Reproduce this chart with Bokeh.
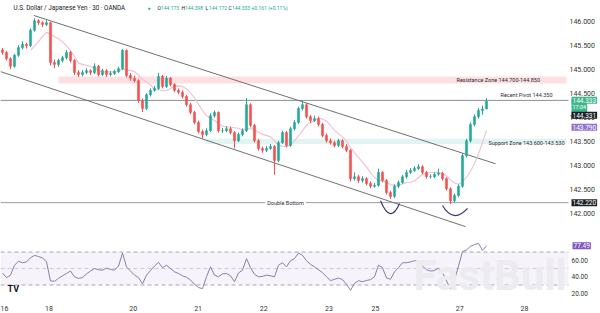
import numpy as np
from bokeh.plotting import figure
from bokeh.layouts import column
from bokeh.models import (Range1d, FixedTicker, Label, BoxAnnotation, ColumnDataSource)
from bokeh.core.properties import value
from bokeh.embed import file_html
from bokeh.resources import INLINE

# ---------------- data ----------------
first_open = 145.40
closes = [145.35,145.22,145.06,145.29,145.45,145.52,145.49,145.81,146.01,145.97,
          145.93,145.97,145.14,145.10,145.18,145.24,145.35,145.18,144.93,144.89,
          144.93,144.97,144.93,145.06,144.89,144.97,144.89,144.91,144.95,145.01,
          145.39,144.87,144.81,144.76,144.35,144.18,144.47,144.56,144.60,144.85,
          144.64,144.81,144.68,144.56,144.52,144.43,144.26,144.10,143.89,143.70,
          143.64,143.72,144.03,144.10,143.72,143.72,143.76,143.68,143.51,143.64,
          143.72,144.26,143.83,143.51,143.35,143.31,143.35,143.39,143.10,143.47,
          143.68,143.41,143.76,143.89,144.18,144.26,144.01,143.93,143.97,143.85,
          143.62,143.51,143.47,143.41,143.51,143.39,143.31,142.72,142.76,142.68,
          142.72,142.62,142.56,142.58,142.85,142.68,142.43,142.35,142.56,142.64,
          142.76,142.85,142.89,142.93,142.97,142.85,142.76,142.76,142.81,142.83,
          142.72,142.51,142.26,142.37,142.56,143.20,143.51,143.85,144.01,144.14,
          144.17,144.333]
highs = [145.44,145.38,145.25,145.32,145.50,145.58,145.55,145.85,146.06,146.04,
         146.00,146.02,145.99,145.20,145.22,145.28,145.40,145.38,145.21,144.98,
         144.98,145.02,145.00,145.12,145.09,145.01,145.00,144.96,144.99,145.05,
         145.42,145.41,144.92,144.86,144.79,144.39,144.50,144.60,144.65,144.92,
         144.88,144.86,144.84,144.71,144.60,144.56,144.46,144.30,144.13,143.93,
         143.74,143.77,144.08,144.14,144.12,143.78,143.81,143.80,143.71,143.68,
         143.77,144.40,144.29,143.86,143.55,143.39,143.40,143.44,143.42,143.51,
         143.72,143.71,143.80,143.94,144.22,144.33,144.29,144.05,144.03,144.01,
         143.88,143.66,143.56,143.51,143.55,143.54,143.44,143.34,142.85,142.80,
         142.77,142.75,142.66,142.63,142.93,142.88,142.71,142.47,142.60,142.68,
         142.80,142.90,142.94,142.98,143.02,143.00,142.88,142.81,142.85,142.93,
         142.86,142.75,142.54,142.41,142.60,143.24,143.55,143.89,144.06,144.19,
         144.24,144.398]
lows = [145.30,145.18,145.00,145.03,145.26,145.41,145.43,145.46,145.78,145.92,
        145.88,145.90,145.08,145.02,145.05,145.14,145.20,145.14,144.88,144.84,
        144.85,144.90,144.88,144.90,144.85,144.86,144.84,144.85,144.88,144.92,
        144.98,144.83,144.76,144.72,144.30,144.11,144.15,144.43,144.53,144.57,
        144.60,144.61,144.64,144.52,144.48,144.39,144.22,144.06,143.85,143.66,
        143.55,143.60,143.69,143.99,143.68,143.67,143.69,143.64,143.35,143.48,
        143.60,143.69,143.79,143.47,143.30,143.26,143.27,143.32,142.80,143.06,
        143.44,143.37,143.38,143.72,143.86,144.14,143.97,143.88,143.90,143.81,
        143.58,143.47,143.43,143.37,143.38,143.35,143.27,142.66,142.68,142.63,
        142.64,142.58,142.52,142.53,142.55,142.64,142.39,142.30,142.32,142.52,
        142.61,142.72,142.82,142.86,142.90,142.81,142.72,142.72,142.73,142.78,
        142.68,142.47,142.19,142.22,142.33,142.53,143.16,143.47,143.81,143.97,
        144.05,144.172]
rsi = [44.6,39,42,54,58.8,57,58,63,66,64.5,
       63,58,35,34.5,38,41.2,44,47,40,38,
       39,43.5,47,50,48.5,48,50.5,49,48,53,
       68.7,52,47,42,39,31.4,42,47.5,53,57.5,
       51,54,50,46,44,41.2,39.5,36,31,27,
       25.6,40,52,42,40,43.5,44,41.2,34,44.6,
       48,62,51,43,40,40.5,42,41.2,40,54,
       57,52,59.5,62,68.7,66,59.5,55,52,48.5,
       45,40,35.3,37,38.5,36.5,31,23.5,32,35.3,
       34,35.5,36.5,40,54,51,38.5,37,46,51,
       57,57,58,59.5,59.5,53,48.5,47,47.5,50.5,
       45,35,25,36,53,70.6,72.5,77,79,80.5,
       72,77.49]

day_labels = ["16", "18", "20", "21", "22", "23", "25", "27", "28"]
day_pos = [-0.25, 11.6, 32.7, 48.9, 65.3, 81.6, 93.25, 114.3, 130.5]
price_ticks = [142.0, 142.5, 143.0, 143.5, 144.0, 144.5, 145.0, 145.5, 146.0]
rsi_ticks = [20, 40, 60]

resistance_zone = (144.70, 144.85)
support_zone = (143.44, 143.55)
pivot = 144.35
double_bottom = 142.22
last_price = 144.333
ma_value = 143.790
rsi_value = 77.49
upper_channel = ([7.8, 123.25], [146.12, 143.03])
lower_channel = ([-0.5, 115.75], [144.95, 141.72])
ma_period = 8

FONT = "Roboto"
UP = "#26a69a"
DOWN = "#ef5350"
PANE_END = 141.5      # right edge of the drawing area (bar units)
SCALE_X = 141.75      # where the price scale texts start (bar units)

# ---------------- derived ----------------
n = len(closes)
idx = np.arange(n)
opens = [first_open] + closes[:-1]
colors = [UP if c >= o else DOWN for o, c in zip(opens, closes)]
src = ColumnDataSource(dict(x=idx, o=opens, c=closes, h=highs, l=lows, col=colors,
                            top=np.maximum(opens, closes), bot=np.minimum(opens, closes)))
ma = np.convolve(closes, np.ones(ma_period) / ma_period, mode="valid")
ma_x = idx[ma_period - 1:]

xr = Range1d(-0.5, 149.5)


def txt(fig, text, x, y, size="5.5px", color="#2a2e39", align="left", baseline="middle", **kw):
    lab = Label(x=x, y=y, text=text, text_font=FONT, text_font_size=size, text_color=color,
                text_align=align, text_baseline=baseline, **kw)
    fig.add_layout(lab)
    return lab


# ---------------- main price pane ----------------
p = figure(width=600, height=228, x_range=xr, y_range=Range1d(141.681, 146.431),
           output_backend="svg", toolbar_location=None, x_axis_location=None,
           y_axis_location=None, min_border_left=0, min_border_right=0,
           min_border_top=0, min_border_bottom=0)
p.grid.visible = False
p.outline_line_color = None
p.background_fill_color = "white"
p.border_fill_color = "white"

# zones
p.quad(left=[14], right=[PANE_END - 0.5], bottom=[resistance_zone[0]], top=[resistance_zone[1]],
       fill_color="#f23645", fill_alpha=0.16, line_color=None)
p.quad(left=[50.75], right=[PANE_END - 0.5], bottom=[support_zone[0]], top=[support_zone[1]],
       fill_color="#22ab94", fill_alpha=0.13, line_color=None)

# horizontal lines
p.segment(x0=[-0.5, -0.5], x1=[PANE_END, PANE_END], y0=[pivot, double_bottom],
          y1=[pivot, double_bottom], line_color=["#8d8f96", "#9a9ca3"], line_width=1)

# channel
p.line(upper_channel[0], upper_channel[1], line_color="#707070", line_width=1)
p.line(lower_channel[0], lower_channel[1], line_color="#707070", line_width=1)

# moving average
p.line(ma_x, ma, line_color="#efbfd3", line_width=1.1)

# candles
p.segment(x0="x", y0="h", x1="x", y1="l", color="col", line_width=1, source=src)
p.vbar(x="x", width=0.55, top="top", bottom="bot", fill_color="col", line_color="col",
       line_width=0.5, source=src)

# double-bottom arcs
p.quadratic(x0=[94.5, 110.0], y0=[142.26, 142.16], x1=[99.25, 116.25], y1=[142.20, 142.10],
            cx=[97.0, 112.75], cy=[141.754, 141.775], line_color="#3d3470", line_width=1.2)

# price scale
p.text(x=[SCALE_X] * len(price_ticks), y=price_ticks, text=[f"{t:.3f}" for t in price_ticks],
       text_font=value(FONT), text_font_size="7px", text_color="#333333",
       text_align="left", text_baseline="middle")

# annotation texts
txt(p, "Resistance Zone 144.700-144.850", 113.5, sum(resistance_zone) / 2)
txt(p, "Recent Pivot 144.350", 124.5, pivot, y_offset=5)
txt(p, "Support Zone 143.600-143.530", 121.5, support_zone[0] + 0.02)
txt(p, "Double Bottom", 70.75, double_bottom, align="center",
    background_fill_color="white", padding=2)

# right-hand price tags
txt(p, "17:04", SCALE_X + 0.5, last_price, size="5.5px", color="white",
    y_offset=-6, background_fill_color="#3fb68b", padding=(1, 5))
txt(p, "144.333", SCALE_X + 0.5, last_price, size="6.5px", color="white",
    y_offset=1, background_fill_color="#3fb68b", padding=1)
txt(p, "144.331", SCALE_X + 0.5, last_price, size="6.5px", color="white",
    y_offset=-14, background_fill_color="#1c1f26", padding=1)
txt(p, "143.790", SCALE_X + 0.5, ma_value, size="6.5px", color="white",
    background_fill_color="#8f73d1", padding=1)
txt(p, "142.220", SCALE_X + 0.5, double_bottom, size="6.5px", color="white",
    background_fill_color="#1c1f26", padding=1)

# header
txt(p, "U.S. Dollar / Japanese Yen · 30 · OANDA", 13, 221, size="6.3px", color="#131722",
    x_units="screen", y_units="screen")
txt(p, "●", 147, 221, size="5px", color="#22ab94", x_units="screen", y_units="screen")
for letter, val, xs in [("O", "144.173", 157), ("H", "144.398", 181), ("L", "144.172", 205),
                        ("C", "144.333", 228)]:
    txt(p, letter, xs, 221, size="5px", color="#131722", x_units="screen", y_units="screen")
    txt(p, val, xs + 3.5, 221, size="5px", color="#22ab94", x_units="screen", y_units="screen")
txt(p, "+0.161 (+0.11%)", 251, 221, size="5px", color="#22ab94", x_units="screen", y_units="screen")

# ---------------- RSI pane ----------------
r = figure(width=600, height=85, x_range=xr, y_range=Range1d(16.1, 98.5),
           output_backend="svg", toolbar_location=None, y_axis_location=None,
           min_border_left=0, min_border_right=0, min_border_top=0, min_border_bottom=15)
r.grid.visible = False
r.outline_line_color = None
r.background_fill_color = "white"
r.border_fill_color = "white"
rx = r.xaxis[0]
rx.ticker = FixedTicker(ticks=day_pos)
rx.major_label_overrides = {pos: lab for pos, lab in zip(day_pos, day_labels)}
rx.axis_line_color = None
rx.major_tick_line_color = None
rx.minor_tick_line_color = None
rx.major_label_standoff = 3
rx.major_label_text_font_size = "7px"
rx.major_label_text_font = FONT
rx.major_label_text_color = "#333333"

r.add_layout(BoxAnnotation(bottom=30, top=70, right=PANE_END, fill_color="#7e57c2",
                           fill_alpha=0.07, line_color=None))
r.segment(x0=[-0.5] * 3, x1=[PANE_END] * 3, y0=[70, 50, 30], y1=[70, 50, 30],
          line_color="#a9abb5", line_alpha=[1.0, 0.5, 1.0], line_dash="4 3", line_width=1)
r.line(idx, rsi, line_color="#8a82a6", line_width=1)

r.text(x=[SCALE_X + 0.5] * len(rsi_ticks), y=rsi_ticks, text=[f"{t:.2f}" for t in rsi_ticks],
       text_font=value(FONT), text_font_size="6.5px", text_color="#333333",
       text_align="left", text_baseline="middle")

txt(r, "FastBull", 413, 21, size="42px", color="#ececf0", x_units="screen", y_units="screen",
    text_font_style="bold")
txt(r, "TV", 7, 8, size="9px", color="#131722", x_units="screen", y_units="screen",
    text_font_style="bold")
txt(r, "77.49", SCALE_X + 0.75, rsi_value, size="6.5px", color="white",
    background_fill_color="#7e57c2", padding=1)

layout = column(p, r, spacing=0)
open("out.html", "w").write(file_html(layout, INLINE))
